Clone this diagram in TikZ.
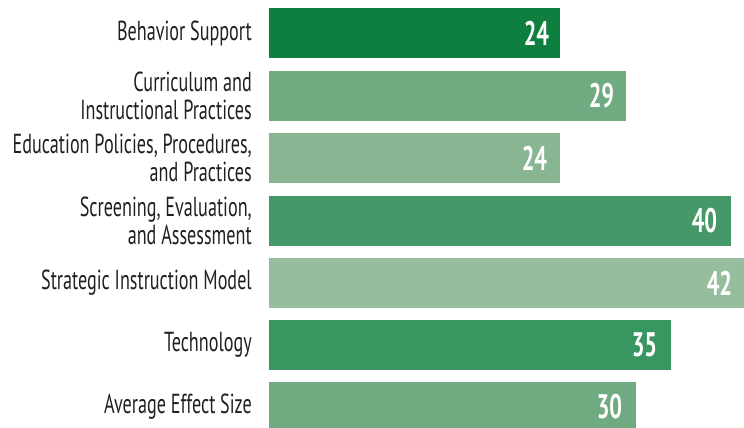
\documentclass[tikz,border=0pt]{standalone}
\usepackage{fontspec}
\setmainfont{PT Sans}[FakeStretch=0.66, BoldFeatures={FakeStretch=0.66}]
\usepackage{tikz}
\usetikzlibrary{positioning,calc}

\definecolor{txtgray}{HTML}{231F20}
\definecolor{gDark}{HTML}{0E7F3F}
\definecolor{gMid}{HTML}{70AA80}
\definecolor{gLight}{HTML}{88B592}
\definecolor{gFour}{HTML}{479868}
\definecolor{gPale}{HTML}{97BD9F}
\definecolor{gSix}{HTML}{3A9660}

\begin{document}
\begin{tikzpicture}[x=1pt, y=-1pt,
        bar/.style={rectangle, draw=none, minimum height=50pt, inner sep=0pt, anchor=west},
        lab/.style={align=right, text=txtgray, inner sep=0pt, font=\fontsize{27.5}{28}\selectfont},
        num/.style={anchor=east, text=white, inner sep=0pt, font=\fontsize{34}{34}\selectfont\bfseries}
    ]
        \useasboundingbox (0,0) rectangle (744,428);

        % Bars
        \node [bar, fill=gDark,  minimum width=291pt] (b1) at (269,33)  {};
        \node [bar, fill=gMid,   minimum width=357pt] (b2) at (269,96)  {};
        \node [bar, fill=gLight, minimum width=291pt] (b3) at (269,158) {};
        \node [bar, fill=gFour,  minimum width=462pt] (b4) at (269,221) {};
        \node [bar, fill=gPale,  minimum width=475pt] (b5) at (269,283) {};
        \node [bar, fill=gSix,   minimum width=402pt] (b6) at (269,345) {};
        \node [bar, fill=gMid,   minimum width=367pt] (b7) at (269,407) {};

        % Category labels
        \node [lab, left=17pt of b1] (l1) {Behavior Support};
        \node [lab, left=17pt of b2] (l2) {Curriculum and\\Instructional Practices};
        \node [lab, left=17pt of b3] (l3) {Education Policies, Procedures,\\and Practices};
        \node [lab, left=17pt of b4] (l4) {Screening, Evaluation,\\and Assessment};
        \node [lab, left=17pt of b5] (l5) {Strategic Instruction Model};
        \node [lab, left=17pt of b6] (l6) {Technology};
        \node [lab, left=17pt of b7] (l7) {Average Effect Size};

        % Values
        \node [num] (n1) at ([xshift=-11pt]b1.east) {24};
        \node [num] (n2) at ([xshift=-12pt]b2.east) {29};
        \node [num] (n3) at ([xshift=-13pt]b3.east) {24};
        \node [num] (n4) at ([xshift=-14pt]b4.east) {40};
        \node [num] (n5) at ([xshift=-12pt]b5.east) {42};
        \node [num] (n6) at ([xshift=-14pt]b6.east) {35};
        \node [num] (n7) at ([xshift=-14pt]b7.east) {30};
\end{tikzpicture}
\end{document}
